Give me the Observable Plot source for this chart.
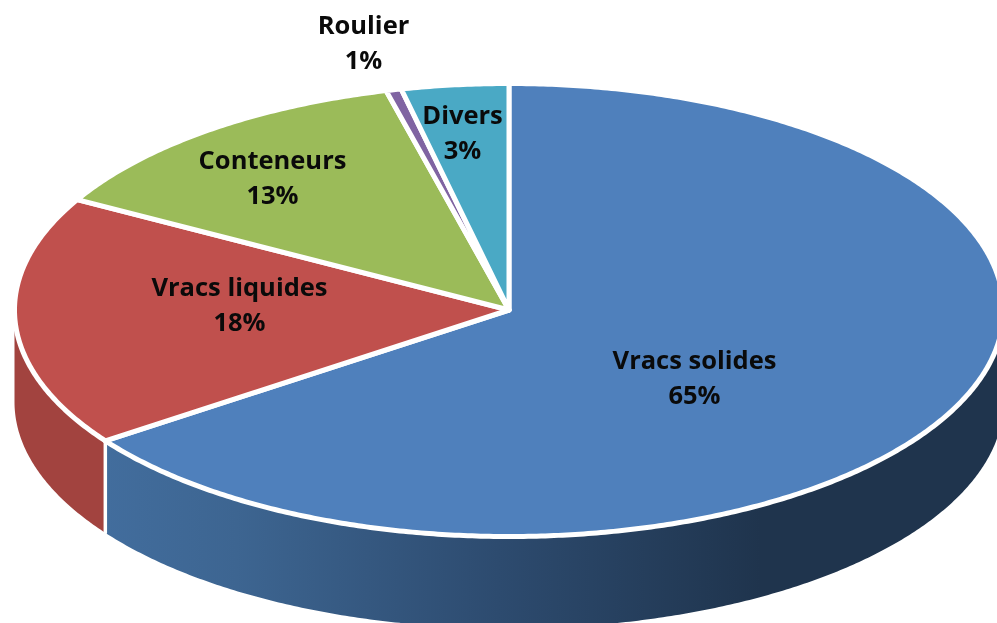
<!DOCTYPE html>
<html>
<head>
<meta charset="utf-8">
<script src="https://cdn.jsdelivr.net/npm/d3@7"></script>
<script src="https://cdn.jsdelivr.net/npm/@observablehq/plot@0.6"></script>
<style>
html,body{margin:0;padding:0;background:#fff}
svg{display:block;filter:blur(0.35px)}
</style>
</head>
<body>
<div id="chart"></div>
<script>
// Data
const categories = ["Vracs solides", "Vracs liquides", "Conteneurs", "Roulier", "Divers"];
const shares = [65.2, 17.9, 12.9, 0.5, 3.5];
const percentLabels = ["65%", "18%", "13%", "1%", "3%"];

// Styles
const topColors = ["#4f80bc", "#c0504d", "#9bbb59", "#8064a2", "#4aa9c5"];
const wallColors = ["url(#wallBlue)", "#a2433f", "#7d9847", "#674f83", "#3a8aa0"];

// Layout (pixels)
const W = 997, H = 623;
const cx = 508.5, cy = 309.5, rx = 494.5, ry = 226.5, depth = 92;
const labelPx = [[694, 375], [239, 302], [272, 175], [363, 40], [462, 130]];

const total = d3.sum(shares);
const cum = d3.cumsum(shares);
const toDeg = v => v / total * 360;
const arc = (a0, a1, shift = 0) => {
  const n = Math.max(2, Math.ceil(Math.abs(a1 - a0) * 2));
  return d3.range(n + 1).map(i => {
    const t = (a0 + (a1 - a0) * i / n) * Math.PI / 180;
    return {x: Math.sin(t), y: Math.cos(t) - shift};
  });
};
const slices = categories.map((name, i) => {
  const a0 = toDeg(i ? cum[i - 1] : 0), a1 = toDeg(cum[i]);
  return {name, a0, a1};
});
const shift = depth / ry;
const lineOpts = {x: "x", y: "y", curve: "linear-closed"};

const marks = [];
// side walls, only for the front half of the disc
slices.forEach((s, i) => {
  const a0 = Math.max(s.a0, 90), a1 = Math.min(s.a1, 270);
  if (a1 <= a0) return;
  const pts = [...arc(a0, a1), ...arc(a1, a0, shift)];
  marks.push(Plot.line(pts, {...lineOpts, fill: wallColors[i], stroke: "none"}));
});
// white separators on the walls
slices.forEach(s => {
  if (s.a0 > 90 && s.a0 < 270) {
    const [p] = arc(s.a0, s.a0);
    marks.push(Plot.line([{x: p.x, y: p.y}, {x: p.x, y: p.y - shift}], {x: "x", y: "y", stroke: "white", strokeWidth: 3.5}));
  }
});
// top surface
slices.forEach((s, i) => {
  const pts = [{x: 0, y: 0}, ...arc(s.a0, s.a1)];
  marks.push(Plot.line(pts, {...lineOpts, fill: topColors[i], stroke: "white", strokeWidth: 5, strokeLinejoin: "round"}));
});
// labels
const labels = categories.map((c, i) => ({
  text: c + "\n" + percentLabels[i],
  x: (labelPx[i][0] - cx) / rx,
  y: (cy - labelPx[i][1]) / ry
}));
marks.push(Plot.text(labels, {
  x: "x", y: "y", text: "text", lineHeight: 1.36,
  fontFamily: "'Open Sans'", fontWeight: 700, fontSize: 25.5, fill: "#0a0a0a"
}));

const plot = Plot.plot({
  width: W, height: H,
  margin: 0,
  style: {background: "white", overflow: "hidden"},
  x: {axis: null, domain: [-1, 1], range: [cx - rx, cx + rx]},
  y: {axis: null, domain: [-1, 1], range: [cy + ry, cy - ry]},
  marks
});
const defs = d3.select(plot).insert("svg:defs", ":first-child");
const grad = defs.append("linearGradient")
  .attr("id", "wallBlue").attr("gradientUnits", "userSpaceOnUse")
  .attr("x1", 105).attr("x2", 760).attr("y1", 0).attr("y2", 0);
[[0, "#426d9d"], [0.2, "#3d6591"], [0.6, "#2d4b6f"], [1, "#1f344d"]].forEach(([o, c]) =>
  grad.append("stop").attr("offset", o).attr("stop-color", c));
document.getElementById("chart").appendChild(plot);
</script>
</body>
</html>
